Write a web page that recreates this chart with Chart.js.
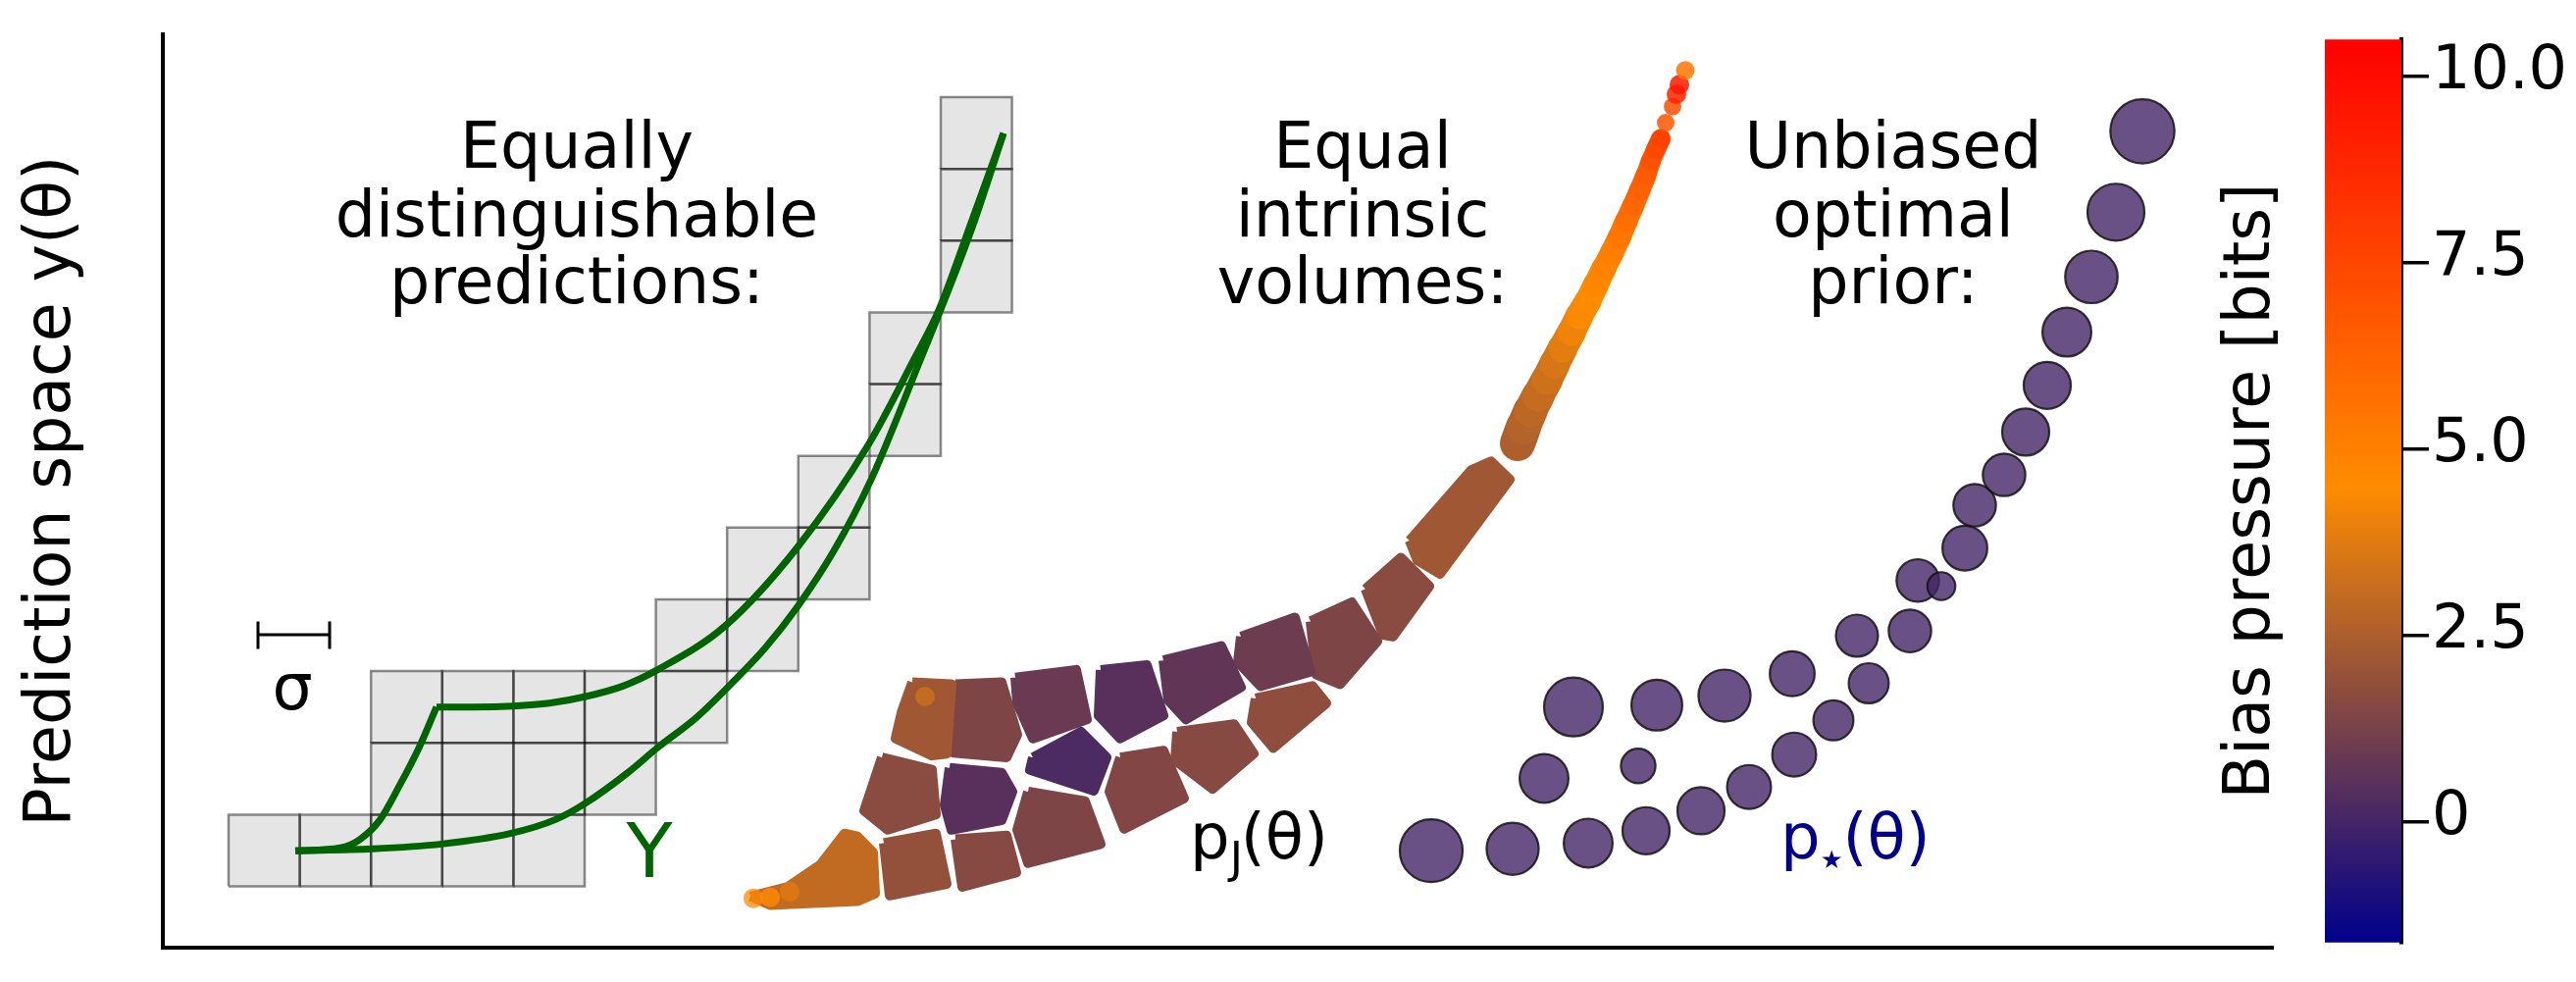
<!DOCTYPE html>
<html><head><meta charset="utf-8">
<script src="https://cdn.jsdelivr.net/npm/chart.js@4.4.1/dist/chart.umd.min.js"></script>
<style>
html,body{margin:0;padding:0;background:#fff;overflow:hidden}
#wrap{position:relative;width:2626px;height:1001px;background:#fff}
#main{position:absolute;left:0;top:0}
#cbar{position:absolute;left:2200px;top:0}
</style></head><body>
<div id="wrap"><canvas id="main" width="2626" height="1001"></canvas><canvas id="cbar" width="426" height="1001"></canvas></div>
<script>
// ---------------- DATA (prediction-space units) ----------------
// sigma-sized squares: lower-left corners
const sigmaX = 7.26, sigmaY = 7.54;
const squareX = [6.7,13.96,21.22,28.48,35.74, 21.22,28.48,35.74,43.0, 21.22,28.48,35.74,43.0,50.26, 50.26,57.52, 57.52,64.78, 64.78, 72.04,72.04, 79.3,79.3,79.3];
const squareY = [6.45,6.45,6.45,6.45,6.45, 13.99,13.99,13.99,13.99, 21.53,21.53,21.53,21.53,21.53, 29.07,29.07, 36.61,36.61, 44.15, 51.69,59.23, 66.77,74.31,81.85];

// model manifold Y (two green curves; upper one has a kink)
const riseX = [13.5,18.1,20.1,22.1,24.1,26.1,27.9];
const riseY = [10.2,10.5,11.4,13.4,17.0,21.0,25.3];
const plateauX = [27.9,31.7,35.7,39.4,43.1,46.9,50.4,57.3,64.7,72.0,76.6,79.1,82.4,85.7];
const plateauY = [25.3,25.3,25.4,25.7,26.4,27.5,29.2,33.8,42.1,53.0,61.9,67.0,76.2,85.6];
const lowerX = [13.5,21.4,28.4,35.4,40.1,43.1,47.4,50.4,54.4,57.9,61.4,64.6,68.4,72.2,76.6,82.4,85.7];
const lowerY = [10.2,10.4,10.9,12.0,13.5,15.2,18.4,21.0,24.2,27.7,31.5,35.7,41.7,49.2,60.2,75.4,85.6];

// sigma scale bar
const sigmaBarX = [9.7, 17.0];
const sigmaBarY = 32.9, sigmaCapLo = 31.4, sigmaCapHi = 34.3;

// Jeffreys-prior cells (outline vertices) and their bias pressure [bits]
const cellOutlines = [
  [[59.9,5.4],[63.7,6.4],[67.0,8.7],[69.5,12.0],[70.8,11.7],[72.4,10.0],[72.6,5.7],[70.8,4.9],[61.9,4.5]],
  [[73.5,11.0],[78.8,12.0],[79.9,6.7],[74.1,5.5]],
  [[80.8,11.4],[86.0,11.8],[87.0,7.9],[81.5,6.4]],
  [[88.2,16.4],[94.0,15.4],[95.6,10.9],[88.2,8.9],[87.1,12.4]],
  [[73.3,20.0],[78.4,18.7],[78.8,14.0],[73.9,12.4],[71.5,14.4]],
  [[80.2,18.9],[85.5,18.4],[86.6,16.4],[85.5,13.4],[80.4,12.4],[79.7,15.0]],
  [[88.7,20.0],[93.6,22.7],[96.2,20.0],[94.9,16.5],[88.4,18.7]],
  [[97.6,20.0],[102.0,20.7],[104.1,15.7],[98.0,12.5],[96.5,16.4]],
  [[103.4,22.7],[109.2,23.5],[111.2,20.4],[107.0,16.7],[103.2,19.7]],
  [[111.4,26.2],[117.2,27.5],[118.6,25.7],[113.2,21.0],[111.0,23.7]],
  [[76.4,27.9],[80.4,27.7],[79.9,20.4],[78.4,20.2],[74.7,22.0],[75.3,24.7]],
  [[80.8,27.7],[85.5,27.9],[87.1,22.4],[86.0,20.0],[80.6,20.5]],
  [[86.9,28.4],[93.1,29.2],[94.2,24.0],[88.7,22.0],[87.1,25.7]],
  [[95.6,29.2],[100.3,29.7],[102.0,24.4],[97.6,22.0],[95.4,24.4]],
  [[102.0,30.2],[107.9,31.7],[109.9,27.4],[104.3,24.0],[102.5,26.0]],
  [[109.9,32.7],[115.4,34.7],[117.0,29.0],[111.9,27.5],[109.6,30.0]],
  [[117.0,34.3],[121.2,36.3],[123.8,32.2],[120.0,27.7],[117.6,28.7]],
  [[122.6,37.7],[126.2,41.0],[129.1,38.0],[125.4,32.7],[124.4,32.9]],
  [[127.1,42.8],[133.4,50.2],[135.4,51.1],[137.3,49.2],[130.2,39.3],[127.9,40.7]]
];
const cellBias = [3.0,1.9,1.6,1.4,1.7,0.5,0.2,1.5,1.6,1.8,2.2,1.4,0.9,0.5,0.7,1.0,1.4,1.7,2.2];

// hot spots inside cells
const spotX = [60.2,61.9,63.9,77.7];
const spotY = [5.2,5.3,5.9,26.4];
const spotBias = [4.6,4.5,3.8,3.3];

// thin tail of the Jeffreys prior (samples along it) and bias
const tailX = [138.1,138.7,139.4,140.2,141.1,141.9,142.7,143.6,144.4,145.3,146.1,146.9,147.7,148.5,149.2,149.9,150.6,151.2,151.7,152.2,152.7,153.2,153.9,154.3,154.6,155.2];
const tailY = [53.0,54.7,56.4,58.0,59.7,61.4,63.0,64.7,66.4,68.0,69.7,71.4,73.0,74.7,76.4,78.0,79.7,81.2,82.7,83.9,85.0,86.7,88.4,89.7,90.7,92.2];
const tailBias = [2.5,2.6,2.8,3.0,3.2,3.4,3.7,4.0,4.3,4.5,4.6,4.8,5.0,5.3,5.6,5.9,6.2,6.5,6.8,7.2,7.6,6.8,7.2,9.0,9.5,5.5];

// unbiased optimal prior: atoms and weights
const priorX = [129.3,137.6,145.3,151.2,156.8,161.7,166.3,170.3,173.9,178.1,172.7,143.8,152.3,159.2,166.1,140.8,150.4,178.9,181.3,183.7,184.7,187.7,189.9,192.1,194.1,196.6,199.1,201.8];
const priorY = [10.2,10.4,11.0,12.3,14.4,16.9,20.3,23.9,27.8,33.3,32.8,25.3,25.5,26.5,28.8,17.8,19.1,38.6,38.0,42.0,46.5,49.7,54.2,59.1,64.7,70.5,77.3,85.8];
const priorWeight = [0.96,0.66,0.58,0.54,0.54,0.47,0.47,0.39,0.39,0.44,0.43,0.84,0.63,0.66,0.49,0.58,0.29,0.44,0.19,0.49,0.44,0.44,0.54,0.54,0.58,0.67,0.79,1.0];
const priorBias = 0.0;

// texts
const headX = [42.2, 122.3, 176.4];
const headLineY = [82.0, 74.8, 67.7];
const headLines = [["Equally","distinguishable","predictions:"],["Equal","intrinsic","volumes:"],["Unbiased","optimal","prior:"]];

// colour bar
const cbMin = -1.62, cbMax = 10.5;
const cbTicks = [0, 2.5, 5.0, 7.5, 10.0];
const cmapStops = [-1.62, 4.5, 10.5];
const cmapRGB = [[0,0,139],[255,140,0],[255,0,0]];

// ---------------- STYLE ----------------
const FONT = '"DejaVu Sans"';
const tailRadius = [18,18,17,16.5,16,15.5,15,14.5,14,13.5,13,12.5,12,12,11.5,11,11,10.5,10,10,10,9,9,10,10,9.5];
const tailDotsFrom = 20;   // last samples are drawn as separate dots
const MAX_ATOM_R = 32.7;

function cmap(v, a) {
  v = Math.max(cmapStops[0], Math.min(cmapStops[cmapStops.length-1], v));
  let i = 0;
  while (i < cmapStops.length - 2 && v > cmapStops[i+1]) i++;
  const f = (v - cmapStops[i]) / (cmapStops[i+1] - cmapStops[i]);
  const c = cmapRGB[i].map((c0, k) => Math.round(c0 + (cmapRGB[i+1][k] - c0) * f));
  return `rgba(${c[0]},${c[1]},${c[2]},${a})`;
}
const pts = (xs, ys) => xs.map((x, i) => ({x, y: ys[i]}));

const datasets = [];
const lineBase = {type:'line', pointRadius:0, fill:false, borderColor:'#006400', borderWidth:7, cubicInterpolationMode:'monotone', borderCapStyle:'butt', borderJoinStyle:'round'};
datasets.push(Object.assign({}, lineBase, {data: pts(riseX, riseY)}));
datasets.push(Object.assign({}, lineBase, {data: pts(plateauX, plateauY)}));
datasets.push(Object.assign({}, lineBase, {data: pts(lowerX, lowerY)}));
// sigma bar
datasets.push({type:'line', pointRadius:0, fill:false, borderColor:'#000', borderWidth:3, tension:0,
  data:[{x:sigmaBarX[0],y:sigmaCapLo},{x:sigmaBarX[0],y:sigmaCapHi},{x:sigmaBarX[0],y:sigmaBarY},{x:sigmaBarX[1],y:sigmaBarY},{x:sigmaBarX[1],y:sigmaCapHi},{x:sigmaBarX[1],y:sigmaCapLo}]});
// optimal prior atoms
datasets.push({type:'scatter', data: pts(priorX, priorY),
  pointRadius: c => MAX_ATOM_R * Math.sqrt(priorWeight[c.dataIndex]),
  backgroundColor: cmap(priorBias, 0.8), borderColor:'rgba(20,20,20,0.85)', borderWidth:2.2});
// hot spots
datasets.push({type:'scatter', data: pts(spotX, spotY), pointRadius:10, borderWidth:0,
  backgroundColor: spotBias.map(b => cmap(b, 0.75))});
// tail: top dots
datasets.push({type:'scatter', data: pts(tailX.slice(tailDotsFrom), tailY.slice(tailDotsFrom)),
  pointRadius: tailRadius.slice(tailDotsFrom), borderWidth:0,
  backgroundColor: tailBias.slice(tailDotsFrom).map(b => cmap(b, 0.85))});
// tail: continuous band
const tb = tailBias.slice(0, tailDotsFrom + 1), tr = tailRadius.slice(0, tailDotsFrom + 1);
datasets.push({type:'line', data: pts(tailX.slice(0, tailDotsFrom + 1), tailY.slice(0, tailDotsFrom + 1)),
  pointRadius:0, tension:0, fill:false, borderCapStyle:'round', borderJoinStyle:'round', borderWidth:20,
  segment:{
    borderColor: s => cmap((tb[s.p0DataIndex] + tb[s.p1DataIndex]) / 2, 1),
    borderWidth: s => tr[s.p0DataIndex] + tr[s.p1DataIndex]
  }});
// cells
cellOutlines.forEach((poly, k) => {
  const d = poly.map(p => ({x:p[0], y:p[1]}));
  d.push({x:poly[0][0], y:poly[0][1]});
  datasets.push({type:'line', data:d, pointRadius:0, tension:0, fill:'shape',
    backgroundColor: cmap(cellBias[k], 1), borderColor: cmap(cellBias[k], 1), borderWidth:10, borderJoinStyle:'round'});
});
// squares
squareX.forEach((x0, k) => {
  const y0 = squareY[k];
  datasets.push({type:'line', pointRadius:0, tension:0, fill:'shape',
    backgroundColor:'rgba(0,0,0,0.1)', borderColor:'rgba(0,0,0,0.45)', borderWidth:2.5,
    data:[{x:x0,y:y0},{x:x0+sigmaX,y:y0},{x:x0+sigmaX,y:y0+sigmaY},{x:x0,y:y0+sigmaY},{x:x0,y:y0}]});
});

const textPlugin = {
  id:'texts',
  afterDatasetsDraw(chart) {
    const {ctx, scales:{x, y}} = chart;
    ctx.save();
    ctx.fillStyle = '#000';
    ctx.textBaseline = 'alphabetic';
    ctx.textAlign = 'center';
    ctx.font = `65px ${FONT}`;
    headLines.forEach((lines, c) => lines.forEach((t, r) => {
      ctx.fillText(t, x.getPixelForValue(headX[c]), y.getPixelForValue(headLineY[r]));
    }));
    ctx.fillText('σ', x.getPixelForValue(13.2), y.getPixelForValue(25.1));
    ctx.fillStyle = '#006400';
    ctx.font = `77px ${FONT}`;
    ctx.fillText('Y', x.getPixelForValue(49.6), y.getPixelForValue(7.4));
    ctx.textAlign = 'left';
    const drawMath = (parts, dx, dy, color) => {
      let px = x.getPixelForValue(dx); const py = y.getPixelForValue(dy);
      ctx.fillStyle = color;
      parts.forEach(p => {
        const s = 64 * (p.s || 1);
        ctx.font = `${s}px ${FONT}`;
        ctx.fillText(p.t, px, py + 64 * (p.dy || 0));
        px += ctx.measureText(p.t).width + (p.k || 0);
      });
    };
    drawMath([{t:'p'},{t:'J', s:0.7, dy:0.24, k:-2},{t:'(θ)'}], 104.7, 9.4, '#000');
    drawMath([{t:'p'},{t:'★', s:0.4, dy:0.16},{t:'(θ)'}], 164.9, 9.4, '#00008b');
    ctx.restore();
  }
};

new Chart(document.getElementById('main'), {
  type:'scatter',
  data:{datasets},
  options:{
    responsive:false, animation:false, events:[],
    plugins:{legend:{display:false}, tooltip:{enabled:false}},
    layout:{padding:{left:21.5, top:17, right:309, bottom:24}},
    scales:{
      x:{type:'linear', min:0, max:215.1, grid:{display:false, drawTicks:false}, ticks:{display:false},
         border:{display:true, width:4, color:'#000'}},
      y:{type:'linear', min:0, max:96, grid:{display:false, drawTicks:false}, ticks:{display:false},
         border:{display:true, width:4, color:'#000'},
         title:{display:true, text:'Prediction space y(θ)', color:'#000', font:{family:'DejaVu Sans', size:65, lineHeight:1}, padding:{top:0, bottom:79.5}}}
    }
  },
  plugins:[textPlugin]
});

new Chart(document.getElementById('cbar'), {
  type:'bar',
  data:{labels:['bias'], datasets:[{data:[[cbMin, cbMax]], borderWidth:0, barPercentage:1, categoryPercentage:1, yAxisID:'y',
    backgroundColor: c => {
      const ch = c.chart; if (!ch.chartArea) return '#888';
      const s = ch.scales.y;
      const y0 = s.getPixelForValue(cmapStops[0]), y1 = s.getPixelForValue(cmapStops[cmapStops.length-1]);
      const g = ch.ctx.createLinearGradient(0, y0, 0, y1);
      cmapStops.forEach((v, i) => g.addColorStop((v - cmapStops[0]) / (cmapStops[cmapStops.length-1] - cmapStops[0]), cmap(v, 1)));
      return g;
    }}]},
  options:{
    responsive:false, animation:false, events:[],
    plugins:{legend:{display:false}, tooltip:{enabled:false}},
    layout:{padding:{left:0, right:0, top:17, bottom:24}},
    scales:{
      x:{display:false},
      yl:{position:'left', min:cbMin, max:cbMax, grid:{display:false, drawTicks:false}, border:{display:false}, ticks:{display:false},
          title:{display:true, text:'Bias pressure [bits]', color:'#000', font:{family:'DejaVu Sans', size:65, lineHeight:1}, padding:{top:63.5, bottom:0}},
          afterFit(s){ s.width = 170; }},
      y:{position:'right', min:cbMin, max:cbMax,
         afterBuildTicks(s){ s.ticks = cbTicks.map(v => ({value:v})); },
         grid:{display:true, drawOnChartArea:false, drawTicks:true, tickLength:28, tickWidth:3.5, tickColor:'#000', lineWidth:3.5, color:'#000'},
         border:{display:true, width:4, color:'#000'},
         ticks:{padding:3, color:'#000', labelOffset:-4, font:{family:'DejaVu Sans', size:62}, callback:v => v === 0 ? '0' : v.toFixed(1)},
         afterFit(s){ s.width = 178; }}
    }
  }
});
</script></body></html>
